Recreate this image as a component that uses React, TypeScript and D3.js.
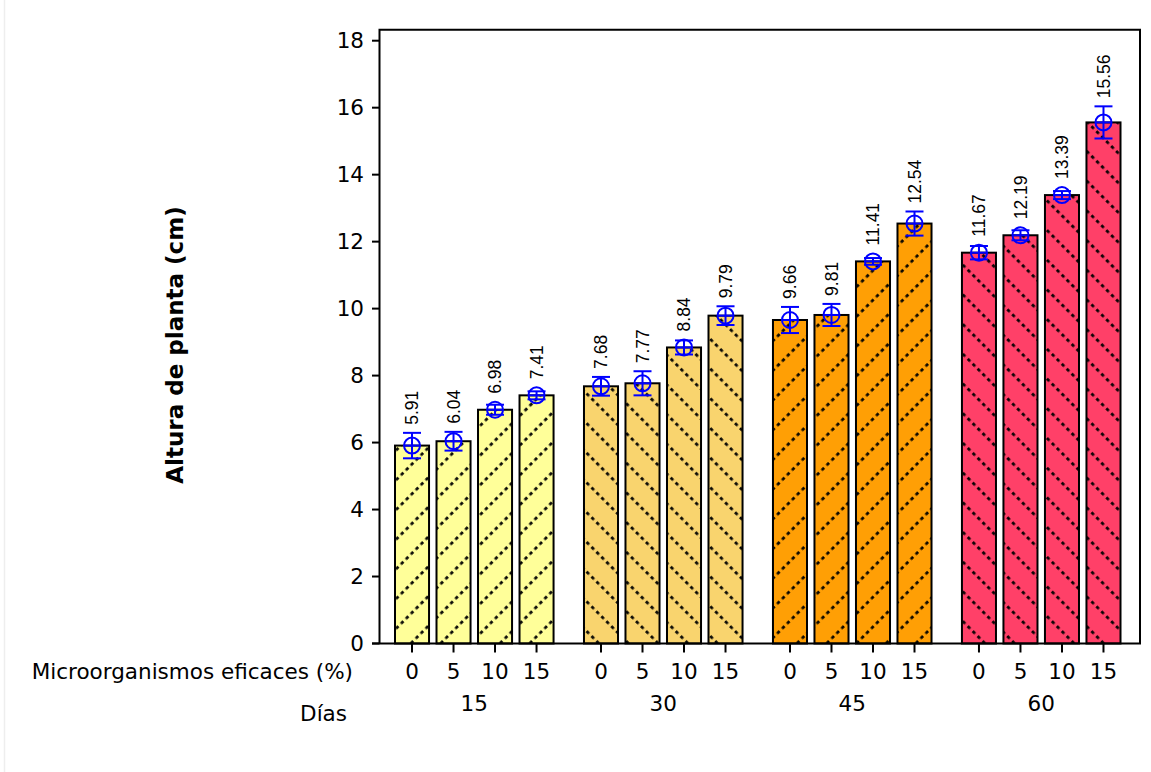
import React from "react";
import * as d3 from "d3";

const days = ["15", "30", "45", "60"];
const doses = ["0", "5", "10", "15"];
const means = [
  [5.91, 6.04, 6.98, 7.41],
  [7.68, 7.77, 8.84, 9.79],
  [9.66, 9.81, 11.41, 12.54],
  [11.67, 12.19, 13.39, 15.56],
];
const errs = [
  [0.38, 0.28, 0.15, 0.12],
  [0.28, 0.36, 0.21, 0.28],
  [0.39, 0.33, 0.1, 0.36],
  [0.2, 0.15, 0.12, 0.48],
];
const groupColors = ["#FFFF99", "#F9D46E", "#FF9F05", "#FF4068"];
const hatchAngles = [45, -45, 45, -45];
const yTicks = [0, 2, 4, 6, 8, 10, 12, 14, 16, 18];

const W = 1151;
const H = 772;
const plotLeft = 379.5;
const plotRight = 1140;
const yScale = d3.scaleLinear().domain([0, 18]).range([643.5, 40.7]);
const plotTop = yScale(18.33);
const plotBottom = yScale(0);

const xGroup = d3.scaleBand<string>().domain(days).range([395, 1120.5]).paddingInner(0.161).paddingOuter(0);
const xBar = d3.scaleBand<string>().domain(doses).range([0, xGroup.bandwidth()]).paddingInner(0.18).paddingOuter(0);

const tickFont = "'DejaVu Sans', Verdana, sans-serif";
const labelFont = "'Liberation Sans', Arial, sans-serif";
const P = 21;

export default function App() {
  const bw = xBar.bandwidth();
  return (
    <svg width={W} height={H} style={{ position: "absolute", left: 0, top: 0, background: "#fff" }}>
      <defs>
        {days.map((d, gi) => (
          <pattern
            key={d}
            id={`hatch${gi}`}
            patternUnits="userSpaceOnUse"
            width={P}
            height={P}
            patternTransform={`rotate(${hatchAngles[gi]})`}
          >
            <rect x={0} y={0} width={P} height={P} fill={groupColors[gi]} />
            <line x1={P / 2} y1={0} x2={P / 2} y2={P} stroke="#000" strokeWidth={2.6} strokeDasharray="3.5 3.5" />
          </pattern>
        ))}
      </defs>
      <rect x={0} y={0} width={W} height={H} fill="#fff" />
      <line x1={4.5} y1={0} x2={4.5} y2={H} stroke="#eeeeee" strokeWidth={1.5} />

      {/* bars */}
      {days.map((d, gi) =>
        doses.map((c, bi) => {
          const x = (xGroup(d) as number) + (xBar(c) as number);
          const v = means[gi][bi];
          return (
            <rect
              key={`${d}-${c}`}
              x={x}
              y={yScale(v)}
              width={bw}
              height={plotBottom - yScale(v)}
              fill={`url(#hatch${gi})`}
              stroke="#000"
              strokeWidth={2}
            />
          );
        })
      )}

      {/* frame */}
      <path
        d={`M${plotLeft},${plotBottom} V${plotTop} H${plotRight} V${plotBottom}`}
        fill="none"
        stroke="#000"
        strokeWidth={2}
      />
      <line x1={372} y1={plotBottom} x2={plotRight + 1} y2={plotBottom} stroke="#000" strokeWidth={2} />

      {/* y ticks */}
      {yTicks.map((t) => (
        <g key={t}>
          <line x1={372} x2={plotLeft} y1={yScale(t)} y2={yScale(t)} stroke="#000" strokeWidth={2} />
          <text
            x={364}
            y={yScale(t)}
            dy="0.36em"
            textAnchor="end"
            fontFamily={tickFont}
            fontSize={21.5}
            fill="#000"
          >
            {t}
          </text>
        </g>
      ))}

      {/* error bars and labels */}
      {days.map((d, gi) =>
        doses.map((c, bi) => {
          const cx = (xGroup(d) as number) + (xBar(c) as number) + bw / 2;
          const v = means[gi][bi];
          const e = errs[gi][bi];
          const cy = yScale(v);
          const yt = yScale(v + e);
          const yb = yScale(v - e);
          return (
            <g key={`eb-${d}-${c}`} stroke="#0000FF" strokeWidth={2} fill="none">
              <line x1={cx} x2={cx} y1={yt} y2={yb} />
              <line x1={cx - 9} x2={cx + 9} y1={yt} y2={yt} />
              <line x1={cx - 9} x2={cx + 9} y1={yb} y2={yb} />
              <circle cx={cx} cy={cy} r={8} />
              <line x1={cx - 8} x2={cx + 8} y1={cy} y2={cy} />
              <text
                transform={`translate(${cx},${Math.min(yt, cy - 8) - 8}) rotate(-90)`}
                dy="0.36em"
                textAnchor="start"
                fontFamily={labelFont}
                fontSize={17.5}
                fill="#000"
                stroke="none"
              >
                {v.toFixed(2)}
              </text>
            </g>
          );
        })
      )}

      {/* x ticks */}
      {days.map((d, gi) =>
        doses.map((c) => {
          const cx = (xGroup(d) as number) + (xBar(c) as number) + bw / 2;
          return (
            <g key={`xt-${d}-${c}`}>
              <line x1={cx} x2={cx} y1={plotBottom} y2={plotBottom + 9} stroke="#000" strokeWidth={2} />
              <text x={cx} y={679} textAnchor="middle" fontFamily={tickFont} fontSize={21.5} fill="#000">
                {c}
              </text>
            </g>
          );
        })
      )}
      {days.map((d) => (
        <text
          key={`g-${d}`}
          x={(xGroup(d) as number) + xGroup.bandwidth() / 2}
          y={711}
          textAnchor="middle"
          fontFamily={tickFont}
          fontSize={21.5}
          fill="#000"
        >
          {d}
        </text>
      ))}
      <text x={353} y={679} textAnchor="end" fontFamily={tickFont} fontSize={21.5} fill="#000">
        Microorganismos eficaces (%)
      </text>
      <text x={347} y={721} textAnchor="end" fontFamily={tickFont} fontSize={21.5} fill="#000">
        Días
      </text>
      <text
        transform={`translate(175,345) rotate(-90)`}
        dy="0.36em"
        textAnchor="middle"
        fontFamily={tickFont}
        fontWeight="bold"
        fontSize={23}
        fill="#000"
      >
        Altura de planta (cm)
      </text>
    </svg>
  );
}
